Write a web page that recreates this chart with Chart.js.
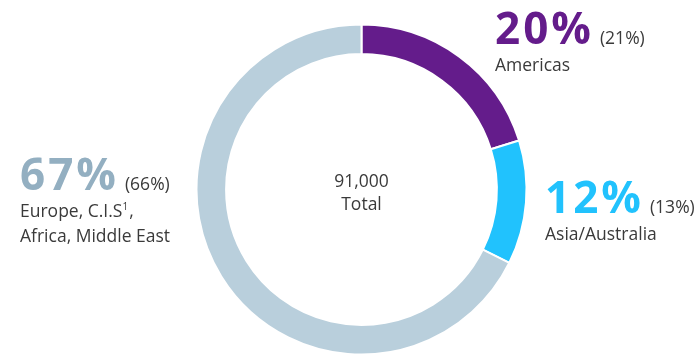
<!DOCTYPE html>
<html>
<head>
<meta charset="utf-8">
<script src="https://cdn.jsdelivr.net/npm/chart.js@4"></script>
<style>
    html, body { margin: 0; padding: 0; background: #fff; }
    #wrap { position: relative; width: 695px; height: 355px; overflow: hidden; }
</style>
</head>
<body>
<div id="wrap"><canvas id="regionChart" width="695" height="355"></canvas></div>
<script>
// Employees by region (share this year, share last year in brackets)
const regions = ['Americas', 'Asia/Australia', 'Europe, C.I.S¹, Africa, Middle East'];
const regionLines = [['Americas'], ['Asia/Australia'], ['Europe, C.I.S¹,', 'Africa, Middle East']];
const shares = [20, 12, 67];
const prevShares = [21, 13, 66];
const totalValue = '91,000';
const totalLabel = 'Total';

const colors = ['#641c8b', '#21c2fd', '#b9cfdc'];
const textColors = ['#641c8b', '#21c2fd', '#93afc1'];

// where each region's label block sits (left x, baseline of the big percentage)
const labelPos = [
    { x: 495, y: 44 },
    { x: 545, y: 213 },
    { x: 20, y: 190 }
];

const DARK = '#3a3a3a';
const FONT = '"Open Sans", sans-serif';
const SMALL = '17.5px ' + FONT;

const labelPlugin = {
    id: 'regionLabels',
    afterDraw(chart) {
        const ctx = chart.ctx;
        const arc = chart.getDatasetMeta(0).data[0];
        const cx = arc.x, cy = arc.y;

        ctx.save();
        ctx.textBaseline = 'alphabetic';

        // centre total
        ctx.fillStyle = DARK;
        ctx.textAlign = 'center';
        ctx.font = SMALL;
        ctx.fillText(totalValue, cx, cy - 3);
        ctx.fillText(totalLabel, cx, cy + 20);

        ctx.textAlign = 'left';
        shares.forEach((v, i) => {
            const p = labelPos[i];
            const big = v + '%';
            ctx.font = 'bold 44px ' + FONT;
            ctx.letterSpacing = '3px';
            ctx.fillStyle = textColors[i];
            ctx.fillText(big, p.x, p.y);
            const w = ctx.measureText(big).width;
            ctx.letterSpacing = '0px';

            ctx.font = SMALL;
            ctx.fillStyle = DARK;
            ctx.fillText('(' + prevShares[i] + '%)', p.x + w + 6, p.y);

            regionLines[i].forEach((line, j) => {
                const y = p.y + 27 + j * 25;
                // superscript footnote marker
                const m = line.match(/^(.*)¹(.*)$/);
                if (m) {
                    ctx.font = SMALL;
                    ctx.fillText(m[1], p.x, y);
                    let x = p.x + ctx.measureText(m[1]).width;
                    ctx.font = '10px ' + FONT;
                    ctx.fillText('1', x, y - 7);
                    x += ctx.measureText('1').width + 1;
                    ctx.font = SMALL;
                    ctx.fillText(m[2], x, y);
                } else {
                    ctx.font = SMALL;
                    ctx.fillText(line, p.x, y);
                }
            });
        });
        ctx.restore();
    }
};

new Chart(document.getElementById('regionChart'), {
    type: 'doughnut',
    data: {
        labels: regions,
        datasets: [{
            data: shares,
            backgroundColor: colors,
            borderColor: '#ffffff',
            borderWidth: 2,
            hoverOffset: 0
        }]
    },
    options: {
        responsive: false,
        animation: false,
        radius: 165,
        cutout: 135,
        layout: {
            padding: { left: 196, right: 168, top: 24, bottom: 0 }
        },
        plugins: {
            legend: { display: false },
            tooltip: { enabled: false }
        },
        events: []
    },
    plugins: [labelPlugin]
});
</script>
</body>
</html>
